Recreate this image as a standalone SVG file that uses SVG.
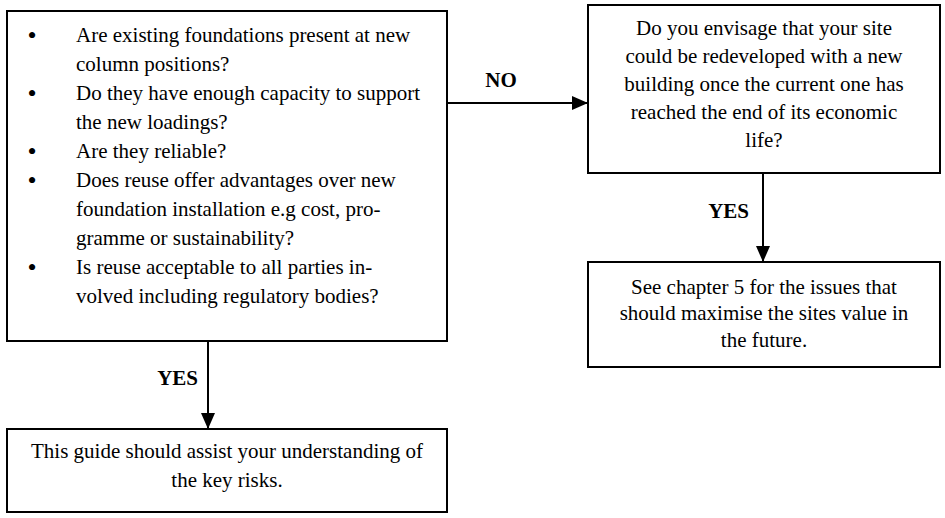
<svg xmlns="http://www.w3.org/2000/svg" width="945" height="518" viewBox="0 0 945 518">
<defs>
<style>
.box{fill:#fff;stroke:#000;stroke-width:2}
.t{font-family:"Liberation Serif","Times New Roman",serif;font-size:21px;fill:#000}
.b{font-family:"Liberation Serif","Times New Roman",serif;font-size:26px;fill:#000;text-anchor:middle}
.c{text-anchor:middle}
.lbl{font-family:"Liberation Serif","Times New Roman",serif;font-size:21px;font-weight:bold;fill:#000}
.con{stroke:#000;stroke-width:2;fill:none}
</style>
<marker id="arr" viewBox="0 0 16 14" refX="16" refY="7" markerWidth="16" markerHeight="14" markerUnits="userSpaceOnUse" orient="auto">
<path d="M0,0 L16,7 L0,14 Z" fill="#000"/>
</marker>
</defs>
<rect width="945" height="518" fill="#fff"/>
<g id="connectors">
<line class="con" x1="447" y1="103" x2="588" y2="103" marker-end="url(#arr)"/>
<line class="con" x1="763" y1="173" x2="763" y2="262" marker-end="url(#arr)"/>
<line class="con" x1="208" y1="341" x2="208" y2="429" marker-end="url(#arr)"/>
<text class="lbl" x="501" y="87" text-anchor="middle">NO</text>
<text class="lbl" x="749" y="218" text-anchor="end">YES</text>
<text class="lbl" x="198" y="385" text-anchor="end">YES</text>
</g>
<g id="node-questions">
<rect class="box" x="7" y="11" width="440" height="330"/>
<text class="b" x="32" y="44">•</text>
<text class="t" x="76" y="42">Are existing foundations present at new</text>
<text class="t" x="76" y="71">column positions?</text>
<text class="b" x="32" y="102">•</text>
<text class="t" x="76" y="100">Do they have enough capacity to support</text>
<text class="t" x="76" y="129">the new loadings?</text>
<text class="b" x="32" y="160">•</text>
<text class="t" x="76" y="158">Are they reliable?</text>
<text class="b" x="32" y="189">•</text>
<text class="t" x="76" y="187">Does reuse offer advantages over new</text>
<text class="t" x="76" y="216">foundation installation e.g cost, pro-</text>
<text class="t" x="76" y="245">gramme or sustainability?</text>
<text class="b" x="32" y="276">•</text>
<text class="t" x="76" y="274">Is reuse acceptable to all parties in-</text>
<text class="t" x="76" y="303">volved including regulatory bodies?</text>
</g>
<g id="node-redevelop">
<rect class="box" x="588" y="5" width="352" height="168"/>
<text class="t c" x="764" y="35">Do you envisage that your site</text>
<text class="t c" x="764" y="63">could be redeveloped with a new</text>
<text class="t c" x="764" y="91">building once the current one has</text>
<text class="t c" x="764" y="119">reached the end of its economic</text>
<text class="t c" x="764" y="147">life?</text>
</g>
<g id="node-chapter5">
<rect class="box" x="588" y="262" width="352" height="105"/>
<text class="t c" x="764" y="294">See chapter 5 for the issues that</text>
<text class="t c" x="764" y="320">should maximise the sites value in</text>
<text class="t c" x="764" y="347">the future.</text>
</g>
<g id="node-guide">
<rect class="box" x="7" y="429" width="440" height="83"/>
<text class="t c" x="227" y="458">This guide should assist your understanding of</text>
<text class="t c" x="227" y="487">the key risks.</text>
</g>
</svg>
